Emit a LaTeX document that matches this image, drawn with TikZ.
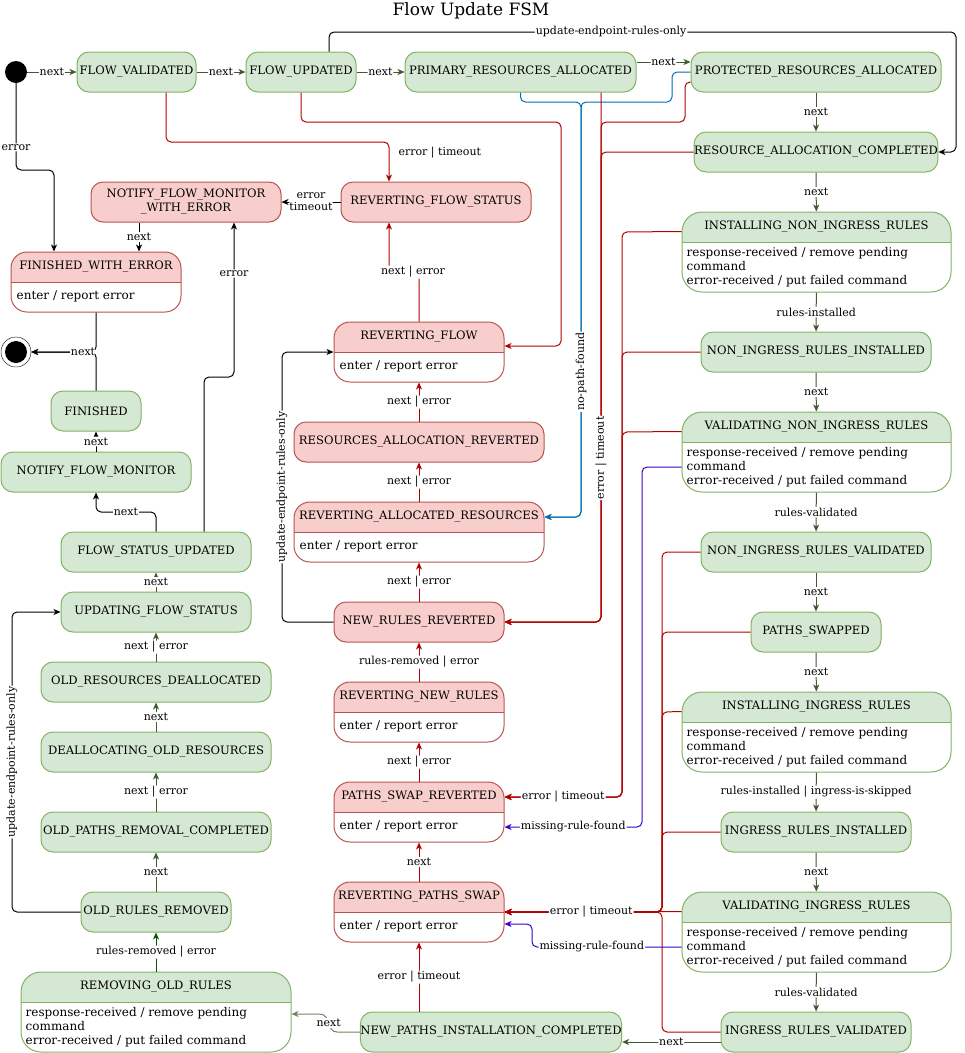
\documentclass[tikz,border=0pt]{standalone}
\usepackage{fontspec}
\setmainfont{DejaVu Serif}
\usetikzlibrary{arrows.meta}

\definecolor{okfill}{HTML}{D5E8D4}
\definecolor{okline}{HTML}{82B366}
\definecolor{badfill}{HTML}{F8CECC}
\definecolor{badline}{HTML}{B85450}
\definecolor{okarrow}{HTML}{3D5A30}
\definecolor{softarrow}{HTML}{6D8764}
\definecolor{deeparrow}{HTML}{005700}
\definecolor{badarrow}{HTML}{B20000}
\definecolor{patharrow}{HTML}{006EAF}
\definecolor{misarrow}{HTML}{3700CC}

\newcommand{\statefont}{\fontsize{11.6}{14}\selectfont}
\newcommand{\notefont}{\fontsize{12}{14}\selectfont}
\newcommand{\edgefont}{\fontsize{11}{12}\selectfont}
\newcommand{\titlefont}{\fontsize{17}{20}\selectfont}

\tikzset{
  okstate/.style={draw=okline, fill=okfill, rounded corners=12pt, minimum height=40pt, inner xsep=0pt, font=\statefont, line width=1pt},
  badstate/.style={draw=badline, fill=badfill, rounded corners=12pt, minimum height=40pt, inner xsep=0pt, font=\statefont, line width=1pt},
  okbox/.style={draw=okline, fill=white, rounded corners=20pt, minimum height=80pt, inner sep=0pt, line width=1pt,
    path picture={\fill[okfill, sharp corners] (path picture bounding box.north west) rectangle ([yshift=-30pt]path picture bounding box.north east);
      \draw[okline, sharp corners] ([yshift=-30pt]path picture bounding box.north west) -- ([yshift=-30pt]path picture bounding box.north east);}},
  badbox/.style={draw=badline, fill=white, rounded corners=16pt, minimum height=60pt, inner sep=0pt, line width=1pt,
    path picture={\fill[badfill, sharp corners] (path picture bounding box.north west) rectangle ([yshift=-30pt]path picture bounding box.north east);
      \draw[badline, sharp corners] ([yshift=-30pt]path picture bounding box.north west) -- ([yshift=-30pt]path picture bounding box.north east);}},
  boxtitle/.style={font=\statefont, inner sep=0pt},
  boxtext/.style={font=\notefont, align=left, inner sep=0pt, anchor=north west},
  boxnote/.style={font=\notefont, inner sep=0pt, anchor=west},
  lbl/.style={font=\edgefont, fill=white, inner sep=1pt},
  flow/.style={line width=1pt, rounded corners=5pt, -{Stealth[length=7pt,width=6pt,inset=2pt]}},
  okflow/.style={flow, draw=okarrow},
  softflow/.style={flow, draw=softarrow},
  deepflow/.style={flow, draw=deeparrow},
  badflow/.style={flow, draw=badarrow},
  pathflow/.style={flow, draw=patharrow},
  misflow/.style={flow, draw=misarrow},
  plainflow/.style={flow, draw=black}
}

\begin{document}
\begin{tikzpicture}[x=1pt, y=-1pt]
    \useasboundingbox (0,0) rectangle (965,1053);
    \node[font=\titlefont] (title) at (471,11) {Flow Update FSM};

    % states
    \node[circle, fill=black, minimum size=22pt, inner sep=0pt] (start) at (16,72) {};
    \node[okstate, minimum width=119pt] (fv) at (136.5,72) {FLOW\_VALIDATED};
    \node[okstate, minimum width=110pt] (fu) at (301,72) {FLOW\_UPDATED};
    \node[okstate, minimum width=231pt] (pra) at (520.5,72) {PRIMARY\_RESOURCES\_ALLOCATED};
    \node[okstate, minimum width=250pt] (prot) at (816,72) {PROTECTED\_RESOURCES\_ALLOCATED};
    \node[okstate, minimum width=240pt] (rac) at (816,152) {RESOURCE\_ALLOCATION\_COMPLETED};

    \node[okbox, minimum width=269pt] (inir) at (816.5,252) {};
    \node[boxtitle] (inir-t) at ([yshift=-15pt]inir.north) {INSTALLING\_NON\_INGRESS\_RULES};
    \node[boxtext] at ([xshift=5pt,yshift=-36pt]inir.north west) {response-received / remove pending\\command\\error-received / put failed command};
    \node[okstate, minimum width=230pt] (niri) at (816,352) {NON\_INGRESS\_RULES\_INSTALLED};
    \node[okbox, minimum width=269pt] (vnir) at (816.5,452) {};
    \node[boxtitle] (vnir-t) at ([yshift=-15pt]vnir.north) {VALIDATING\_NON\_INGRESS\_RULES};
    \node[boxtext] at ([xshift=5pt,yshift=-36pt]vnir.north west) {response-received / remove pending\\command\\error-received / put failed command};
    \node[okstate, minimum width=230pt] (nirv) at (816,552) {NON\_INGRESS\_RULES\_VALIDATED};
    \node[okstate, minimum width=130pt] (ps) at (816,632) {PATHS\_SWAPPED};
    \node[okbox, minimum width=269pt] (iir) at (816.5,732) {};
    \node[boxtitle] (iir-t) at ([yshift=-15pt]iir.north) {INSTALLING\_INGRESS\_RULES};
    \node[boxtext] at ([xshift=5pt,yshift=-36pt]iir.north west) {response-received / remove pending\\command\\error-received / put failed command};
    \node[okstate, minimum width=190pt] (iri) at (816,832) {INGRESS\_RULES\_INSTALLED};
    \node[okbox, minimum width=269pt] (vir) at (816.5,932) {};
    \node[boxtitle] (vir-t) at ([yshift=-15pt]vir.north) {VALIDATING\_INGRESS\_RULES};
    \node[boxtext] at ([xshift=5pt,yshift=-36pt]vir.north west) {response-received / remove pending\\command\\error-received / put failed command};
    \node[okstate, minimum width=190pt] (irv) at (816,1032) {INGRESS\_RULES\_VALIDATED};
    \node[okstate, minimum width=260pt] (npic) at (491,1032) {NEW\_PATHS\_INSTALLATION\_COMPLETED};

    \node[okbox, minimum width=270pt] (ror) at (156,1012) {};
    \node[boxtitle] (ror-t) at ([yshift=-15pt]ror.north) {REMOVING\_OLD\_RULES};
    \node[boxtext] at ([xshift=5pt,yshift=-36pt]ror.north west) {response-received / remove pending\\command\\error-received / put failed command};
    \node[okstate, minimum width=150pt] (orr) at (156,912) {OLD\_RULES\_REMOVED};
    \node[okstate, minimum width=230pt] (oprc) at (156,832) {OLD\_PATHS\_REMOVAL\_COMPLETED};
    \node[okstate, minimum width=230pt] (dor) at (156,752) {DEALLOCATING\_OLD\_RESOURCES};
    \node[okstate, minimum width=230pt] (ord) at (156,682) {OLD\_RESOURCES\_DEALLOCATED};
    \node[okstate, minimum width=190pt] (ufs) at (156,612) {UPDATING\_FLOW\_STATUS};
    \node[okstate, minimum width=190pt] (fsu) at (156,552) {FLOW\_STATUS\_UPDATED};
    \node[okstate, minimum width=190pt] (nfm) at (96,472) {NOTIFY\_FLOW\_MONITOR};
    \node[okstate, minimum width=90pt] (fin) at (96,411) {FINISHED};
    \node[circle, draw, fill=white, minimum size=30pt, inner sep=0pt] (final) at (16,352) {};
    \fill (final.center) circle (11pt);

    \node[badbox, minimum width=170pt] (fwe) at (96,282) {};
    \node[boxtitle] (fwe-t) at ([yshift=-15pt]fwe.north) {FINISHED\_WITH\_ERROR};
    \node[boxnote] at ([xshift=6pt,yshift=-45pt]fwe.north west) {enter / report error};
    \node[badstate, minimum width=190pt, align=center] (nfmwe) at (186,202) {NOTIFY\_FLOW\_MONITOR\\\_WITH\_ERROR};
    \node[badstate, minimum width=190pt] (rfs) at (436,202) {REVERTING\_FLOW\_STATUS};

    \node[badbox, minimum width=170pt] (rf) at (419,352) {};
    \node[boxtitle] (rf-t) at ([yshift=-15pt]rf.north) {REVERTING\_FLOW};
    \node[boxnote] at ([xshift=6pt,yshift=-45pt]rf.north west) {enter / report error};
    \node[badstate, minimum width=250pt] (rarev) at (419,442) {RESOURCES\_ALLOCATION\_REVERTED};
    \node[badbox, minimum width=250pt] (rar) at (419,532) {};
    \node[boxtitle] (rar-t) at ([yshift=-15pt]rar.north) {REVERTING\_ALLOCATED\_RESOURCES};
    \node[boxnote] at ([xshift=6pt,yshift=-45pt]rar.north west) {enter / report error};
    \node[badstate, minimum width=170pt] (nrr) at (419,622) {NEW\_RULES\_REVERTED};
    \node[badbox, minimum width=170pt] (rnr) at (419,712) {};
    \node[boxtitle] (rnr-t) at ([yshift=-15pt]rnr.north) {REVERTING\_NEW\_RULES};
    \node[boxnote] at ([xshift=6pt,yshift=-45pt]rnr.north west) {enter / report error};
    \node[badbox, minimum width=170pt] (psr) at (419,812) {};
    \node[boxtitle] (psr-t) at ([yshift=-15pt]psr.north) {PATHS\_SWAP\_REVERTED};
    \node[boxnote] at ([xshift=6pt,yshift=-45pt]psr.north west) {enter / report error};
    \node[badbox, minimum width=170pt] (rps) at (419,912) {};
    \node[boxtitle] (rps-t) at ([yshift=-15pt]rps.north) {REVERTING\_PATHS\_SWAP};
    \node[boxnote] at ([xshift=6pt,yshift=-45pt]rps.north west) {enter / report error};

    % forward transitions
    \draw[okflow] (start) -- node[lbl]{next} (fv);
    \draw[okflow] (fv) -- node[lbl]{next} (fu);
    \draw[okflow] (fu) -- node[lbl]{next} (pra);
    \draw[okflow] ([yshift=10pt]pra.east) -- node[lbl]{next} ([yshift=10pt]prot.west);
    \draw[plainflow] ([xshift=28pt]fu.north) -- (329,32) -- node[lbl, pos=0.45]{update-endpoint-rules-only} (956,32) -- (956,152) -- (rac.east);
    \draw[okflow] (prot) -- node[lbl]{next} (rac);
    \draw[okflow] (rac) -- node[lbl]{next} (inir);
    \draw[okflow] (inir) -- node[lbl]{rules-installed} (niri);
    \draw[okflow] (niri) -- node[lbl]{next} (vnir);
    \draw[okflow] (vnir) -- node[lbl]{rules-validated} (nirv);
    \draw[okflow] (nirv) -- node[lbl]{next} (ps);
    \draw[okflow] (ps) -- node[lbl]{next} (iir);
    \draw[okflow] (iir) -- node[lbl]{rules-installed | ingress-is-skipped} (iri);
    \draw[okflow] (iri) -- node[lbl]{next} (vir);
    \draw[okflow] (vir) -- node[lbl]{rules-validated} (irv);
    \draw[okflow] ([yshift=-10pt]irv.west) -- node[lbl]{next} ([yshift=-10pt]npic.east);
    \draw[softflow] (npic.west) -- (342,1032) .. controls (326,1032) and (332,1014) .. (314,1014) node[lbl, pos=0.5]{next} -- ([yshift=-2pt]ror.east);
    \draw[deepflow] (ror) -- node[lbl]{rules-removed | error} (orr);
    \draw[okflow] (orr) -- node[lbl]{next} (oprc);
    \draw[okflow] (oprc) -- node[lbl]{next | error} (dor);
    \draw[okflow] (dor) -- node[lbl]{next} (ord);
    \draw[okflow] (ord) -- node[lbl]{next | error} (ufs);
    \draw[okflow] (ufs) -- node[lbl]{next} (fsu);
    \draw[plainflow] (fsu.north) -- (156,512) -- node[lbl]{next} (96,512) -- (nfm.south);
    \draw[plainflow] (nfm) -- node[lbl]{next} (fin);
    \draw[plainflow] (fwe.south) -- (96,352) -- (final);
    \draw[plainflow] (fin.north) -- (96,352) -- node[lbl, pos=0.2]{next} (final);
    \draw[plainflow] (orr.west) -- (12,912) -- node[lbl, rotate=90]{update-endpoint-rules-only} (12,612) -- (ufs.west);
    \draw[plainflow] ([xshift=48pt]fsu.north) -- (204,377) -- (234,377) -- node[lbl, pos=0.67]{error} ([xshift=48pt]nfmwe.south);

    % error transitions
    \draw[plainflow] (start) -- node[lbl, pos=0.74]{error} (16,170) -- (54,170) -- ([xshift=-42pt]fwe.north);
    \draw[plainflow] ([xshift=-47pt]nfmwe.south) -- node[lbl]{next} ([xshift=43pt]fwe.north);
    \draw[plainflow] (rfs) -- node[lbl, align=center, inner sep=0pt]{error\\timeout} (nfmwe);
    \draw[badflow] ([xshift=29.5pt]fv.south) -- (166,142) -- (389,142) -- node[lbl, fill=none, anchor=west, pos=0.28, xshift=8pt]{error | timeout} ([xshift=-47pt]rfs.north);
    \draw[badflow] (fu.south) -- (301,122) -- (561,122) -- (561,346) -- ([yshift=6pt]rf.east);
    \draw[badflow] (rf.north) -- (419,272) -- node[lbl, pos=0.2]{next | error} (389,272) -- ([xshift=-47pt]rfs.south);

    \draw[pathflow] (prot.west) -- (672,72) -- (672,102) -- (581,102) -- (581,517) -- ([yshift=15pt]rar.east);
    \draw[pathflow] (pra.south) -- (520.5,102) -- (581,102) -- node[lbl, rotate=90, pos=0.65]{no-path-found} (581,517) -- ([yshift=15pt]rar.east);

    \draw[badflow] ([yshift=-10pt]prot.west) -- (685,82) -- (685,122) -- (601,122) -- (601,622) -- (nrr.east);
    \draw[badflow] (rac.west) -- (601,152) -- (601,622) -- (nrr.east);
    \draw[badflow] ([xshift=80.5pt]pra.south) -- node[lbl, rotate=90, pos=0.69]{error | timeout} (601,622) -- (nrr.east);

    \draw[badflow] (niri.west) -- (622,352) -- (622,797) -- ([yshift=15pt]psr.east);
    \draw[badflow] ([yshift=-20pt]vnir.north west) -- (622,432) -- (622,797) -- ([yshift=15pt]psr.east);
    \draw[badflow] ([yshift=-20pt]inir.north west) -- (622,232) -- (622,797) -- node[lbl]{error | timeout} ([yshift=15pt]psr.east);
    \draw[misflow] ([yshift=-15pt]vnir.west) -- (642,467) -- (642,827) -- node[lbl]{missing-rule-found} ([yshift=-15pt]psr.east);

    \draw[badflow] (nirv.west) -- (662,552) -- (662,912) -- (rps.east);
    \draw[badflow] (ps.west) -- (662,632) -- (662,912) -- (rps.east);
    \draw[badflow] ([yshift=-20pt]iir.north west) -- (662,712) -- (662,912) -- (rps.east);
    \draw[badflow] (iri.west) -- (662,832) -- (662,912) -- (rps.east);
    \draw[badflow] (irv.west) -- (662,1032) -- (662,912) -- (rps.east);
    \draw[badflow] ([yshift=-20pt]vir.north west) -- node[lbl, pos=0.51]{error | timeout} (rps.east);
    \draw[misflow] ([yshift=-15pt]vir.west) -- node[lbl, pos=0.6]{missing-rule-found} (532,947) -- (532,924) -- ([yshift=-12pt]rps.east);

    \draw[badflow] ([xshift=-72pt]npic.north) -- node[lbl]{error | timeout} (rps.south);
    \draw[badflow] (rps) -- node[lbl]{next} (psr);
    \draw[badflow] (psr) -- node[lbl]{next | error} (rnr);
    \draw[badflow] (rnr) -- node[lbl]{rules-removed | error} (nrr);
    \draw[badflow] (nrr) -- node[lbl]{next | error} (rar);
    \draw[badflow] (rar) -- node[lbl]{next | error} (rarev);
    \draw[badflow] (rarev) -- node[lbl]{next | error} (rf);
    \draw[plainflow] (nrr.west) -- (282,622) -- node[lbl, rotate=90]{update-endpoint-rules-only} (282,352) -- (rf.west);
\end{tikzpicture}
\end{document}
